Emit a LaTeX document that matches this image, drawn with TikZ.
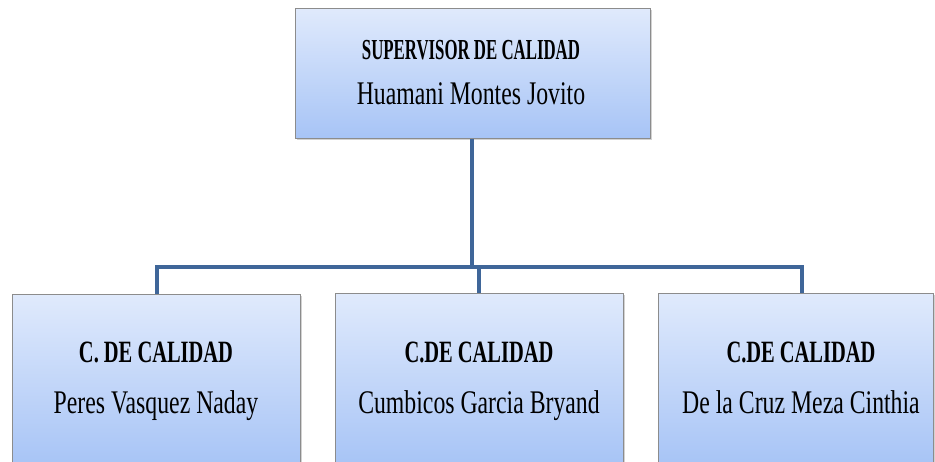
\documentclass[tikz,border=0pt]{standalone}
\usepackage{fontspec}
\setmainfont{Liberation Serif}
\newfontfamily\namefont[FakeStretch=0.72]{Liberation Serif}
\newfontfamily\titlefont[FakeStretch=0.58]{Liberation Serif Bold}
\newfontfamily\btitlefont[FakeStretch=0.66]{Liberation Serif Bold}
\usetikzlibrary{shadows}
\definecolor{boxtop}{HTML}{E0EAFC}
\definecolor{boxbot}{HTML}{A7C4F6}
\definecolor{boxline}{HTML}{8C8C8C}
\definecolor{conn}{HTML}{3F6699}
\tikzset{
  orgbox/.style={draw=boxline, line width=1pt, top color=boxtop, bottom color=boxbot,
    rectangle, inner sep=0pt, drop shadow={opacity=0.35, shadow xshift=2pt, shadow yshift=-2pt}},
  ttl/.style={font=\titlefont\fontsize{29}{32}\selectfont, anchor=base, inner sep=0pt},
  nm/.style={font=\namefont\fontsize{33}{36}\selectfont, anchor=base, inner sep=0pt},
  bttl/.style={font=\btitlefont\fontsize{31}{34}\selectfont, anchor=base, inner sep=0pt},
  link/.style={draw=conn, line width=4.5pt}
}
\begin{document}
\begin{tikzpicture}[x=1pt,y=-1pt]
\useasboundingbox (0,0) rectangle (935,461);
\fill[white] (0,0) rectangle (935,461);
\clip (0,0) rectangle (935,461);
% boxes
\node[orgbox, minimum width=355pt, minimum height=130pt] (sup) at (472.5,73) {};
\node[orgbox, minimum width=288pt, minimum height=172pt] (c1) at (156,380) {};
\node[orgbox, minimum width=288pt, minimum height=172pt] (c2) at (479,379) {};
\node[orgbox, minimum width=275pt, minimum height=172pt] (c3) at (795.5,379) {};
% connectors
\coordinate (hj) at (472,267);
\coordinate (hl) at (157,267);
\coordinate (hr) at (802,267);
\draw[link] (sup.south -| hj) -- (hj);
\draw[link, line join=miter] (c1.north -| hl) -- (hl) -- (hr) -- (c3.north -| hr);
\draw[link] (hj -| c2.north) ++(0,-2) -- (c2.north);
% texts
\node[ttl] (t0) at (471,59) {SUPERVISOR DE CALIDAD};
\node[nm]  (n0) at (471,104) {Huamani Montes Jovito};
\node[bttl] (t1) at (156,362) {C. DE CALIDAD};
\node[nm]  (n1) at (156,413) {Peres Vasquez Naday};
\node[bttl] (t2) at (479,362) {C.DE CALIDAD};
\node[nm]  (n2) at (479,413) {Cumbicos Garcia Bryand};
\node[bttl] (t3) at (801,362) {C.DE CALIDAD};
\node[nm]  (n3) at (801,413) {De la Cruz Meza Cinthia};
\end{tikzpicture}
\end{document}
